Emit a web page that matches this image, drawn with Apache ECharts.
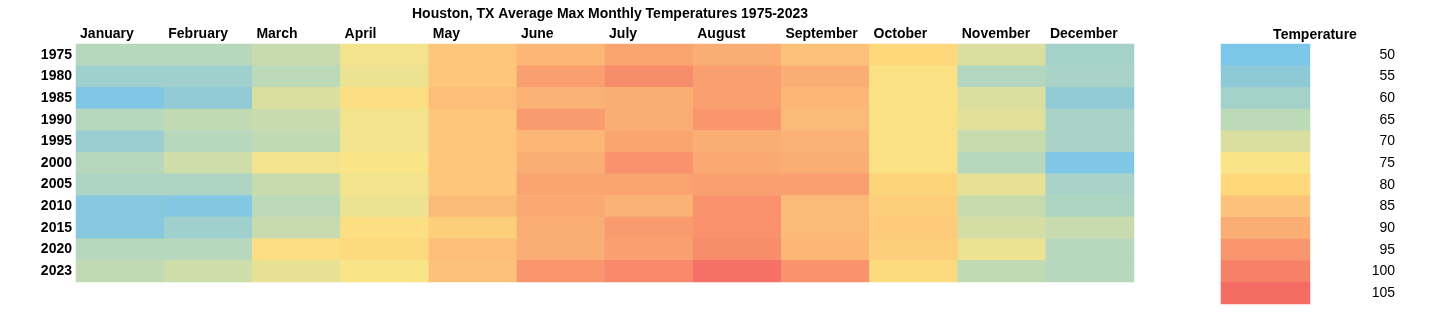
<!DOCTYPE html>
<html>
<head>
<meta charset="utf-8">
<script src="https://cdn.jsdelivr.net/npm/echarts@6/dist/echarts.min.js"></script>
<style>
html,body{margin:0;padding:0;background:#fff;}
#chart{width:1430px;height:328px;}
</style>
</head>
<body>
<div id="chart"></div>
<script>
const months = ['January','February','March','April','May','June','July','August','September','October','November','December'];
const years = ['1975','1980','1985','1990','1995','2000','2005','2010','2015','2020','2023'];
// average max temperature per year (rows), one value per month
const t1975 = [64,64,67,74,84,88,92,90,85,80,70,60];
const t1980 = [59,59,65,73,84,93,97,93,90,76,63,61];
const t1985 = [51,56,70,77,86,89,90,93,88,76,70,56];
const t1990 = [64,66,67,74,84,94,90,95,87,76,71,61];
const t1995 = [58,64,66,74,84,88,92,90,89,76,67,61];
const t2000 = [64,68,74,75,84,90,96,91,90,76,64,51];
const t2005 = [62,62,67,74,84,92,92,93,93,81,72,61];
const t2010 = [53,52,65,73,87,91,89,96,87,82,67,62];
const t2015 = [53,59,67,77,82,90,94,96,87,83,69,67];
const t2020 = [64,64,77,79,86,90,93,97,88,82,73,64];
const t2023 = [66,68,72,75,85,95,98,104,96,79,66,64];
const rows = [t1975,t1980,t1985,t1990,t1995,t2000,t2005,t2010,t2015,t2020,t2023];
const legendValues = [50,55,60,65,70,75,80,85,90,95,100,105];
const scaleColors = ['#7CC6EA','#8EC9D8','#A4D2CB','#BCD9B8','#DADF9F','#F9E487','#FED87A','#FDC27A','#FBAE74','#F9966E','#F78068','#F56C65'];

const heatData = [];
rows.forEach((r, yi) => r.forEach((v, xi) => heatData.push([xi, yi, v])));
const legendData = legendValues.map((v, i) => [0, i, v]);

const font = 'Liberation Sans, Arial, sans-serif';
const chart = echarts.init(document.getElementById('chart'), null, {renderer: 'canvas'});
chart.setOption({
  animation: false,
  textStyle: {fontFamily: font},
  title: [
    {text: 'Houston, TX Average Max Monthly Temperatures 1975-2023', left: 605, top: 2, textAlign: 'center',
     textStyle: {fontFamily: font, fontSize: 14, fontWeight: 'bold', color: '#000'}},
    {text: 'Temperature', left: 1310, top: 23, textAlign: 'center',
     textStyle: {fontFamily: font, fontSize: 14, fontWeight: 'bold', color: '#000'}}
  ],
  grid: [
    {left: 76, top: 44, width: 1058, height: 238},
    {left: 1221, top: 44, width: 89, height: 260}
  ],
  xAxis: [
    {type: 'category', gridIndex: 0, data: months, position: 'top',
     axisLine: {show: false}, axisTick: {show: false}, splitLine: {show: false},
     axisLabel: {interval: 0, margin: 3, color: '#000', fontFamily: font, fontSize: 14, fontWeight: 'bold',
       formatter: '{a|{value}}', rich: {a: {width: 80, align: 'left', fontFamily: font, fontSize: 14, fontWeight: 'bold', color: '#000'}}}},
    {type: 'category', gridIndex: 1, data: ['T'], show: false}
  ],
  yAxis: [
    {type: 'category', gridIndex: 0, data: years, inverse: true,
     axisLine: {show: false}, axisTick: {show: false}, splitLine: {show: false},
     axisLabel: {interval: 0, margin: 4, color: '#000', fontFamily: font, fontSize: 14, fontWeight: 'bold'}},
    {type: 'category', gridIndex: 1, data: legendValues.map(String), inverse: true, position: 'right',
     axisLine: {show: false}, axisTick: {show: false}, splitLine: {show: false},
     axisLabel: {interval: 0, margin: 85, align: 'right', color: '#000', fontFamily: font, fontSize: 14}}
  ],
  visualMap: {
    type: 'continuous', show: false, min: 50, max: 105, dimension: 2, seriesIndex: [0, 1],
    inRange: {color: scaleColors}
  },
  series: [
    {type: 'heatmap', xAxisIndex: 0, yAxisIndex: 0, data: heatData, itemStyle: {borderWidth: 0}},
    {type: 'heatmap', xAxisIndex: 1, yAxisIndex: 1, data: legendData, itemStyle: {borderWidth: 0}}
  ]
});
</script>
</body>
</html>
